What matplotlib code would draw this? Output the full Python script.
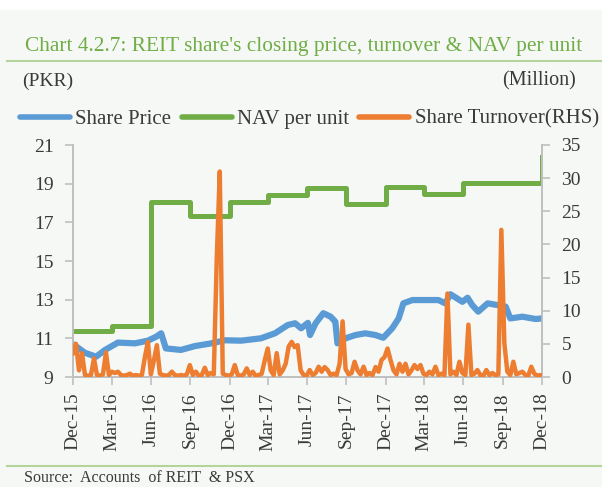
import matplotlib
matplotlib.use("Agg")
import matplotlib.pyplot as plt
from matplotlib.lines import Line2D
import pandas as pd

# ---------------- data ----------------
price_dates = ['2015-12-31', '2016-01-28', '2016-02-23', '2016-03-15', '2016-04-14',
               '2016-05-24', '2016-06-23', '2016-07-12', '2016-07-24', '2016-08-04',
               '2016-09-08', '2016-10-11', '2016-11-18', '2016-12-20', '2017-01-27',
               '2017-03-14', '2017-04-16', '2017-05-16', '2017-06-02', '2017-06-16',
               '2017-07-02', '2017-07-07', '2017-07-20', '2017-08-07', '2017-08-24',
               '2017-09-04', '2017-09-09', '2017-09-28', '2017-10-21', '2017-11-13',
               '2017-12-07', '2017-12-25', '2018-01-15', '2018-01-30', '2018-02-10',
               '2018-03-03', '2018-05-03', '2018-05-19', '2018-05-31', '2018-06-28',
               '2018-07-10', '2018-07-21', '2018-08-04', '2018-08-26', '2018-09-18',
               '2018-10-07', '2018-10-18', '2018-11-15', '2018-12-16', '2018-12-31']
share_price = [10.7, 10.25, 10.05, 10.4, 10.78,
               10.74, 10.88, 11.08, 11.26, 10.48,
               10.4, 10.6, 10.74, 10.9, 10.88,
               11.0, 11.26, 11.69, 11.78, 11.52,
               11.8, 11.17, 11.78, 12.3, 12.12,
               11.86, 10.74, 11.0, 11.17, 11.26,
               11.17, 11.03, 11.52, 12.03, 12.81,
               12.98, 12.98, 12.81, 13.28, 12.89,
               13.1, 12.72, 12.38, 12.81, 12.72,
               12.64, 12.03, 12.12, 12.0, 12.03]

nav_dates = ['2015-12-31', '2016-03-31', '2016-06-30', '2016-09-30', '2016-12-31',
             '2017-03-31', '2017-06-30', '2017-09-30', '2017-12-31', '2018-03-31',
             '2018-06-30', '2018-12-27', '2018-12-31']
nav_per_unit = [11.38, 11.64, 18.07, 17.33, 18.07,
                18.41, 18.76, 17.93, 18.85, 18.46,
                19.05, 19.05, 20.4]

turnover_start = '2015-12-31'   # weekly observations
share_turnover = [
    3.5, 5.0, 1.0, 3.6, 0.3, 0.2, 0.3, 2.8, 0.3, 0.2,
    0.4, 3.7, 0.3, 0.8, 0.6, 0.8, 0.3, 0.2, 0.3, 0.5,
    0.2, 0.3, 0.2, 0.3, 3.0, 5.3, 0.4, 2.5, 4.8, 0.5,
    0.3, 0.2, 0.3, 0.8, 0.3, 0.2, 0.3, 0.2, 0.4, 1.8,
    0.3, 0.8, 0.2, 0.3, 1.4, 0.3, 0.6, 0.4, 18.0, 31.0,
    0.5, 0.3, 0.2, 0.4, 1.8, 0.3, 0.2, 0.4, 1.3, 0.3,
    0.8, 0.2, 0.3, 0.5, 2.5, 4.3, 1.0, 0.3, 3.6, 0.4,
    1.0, 2.0, 4.6, 5.3, 4.5, 4.8, 1.0, 0.3, 0.2, 1.05,
    0.3, 0.6, 1.55, 0.8, 1.5, 1.05, 0.3, 0.5, 0.3, 2.0,
    8.4, 1.2, 0.4, 0.6, 2.3, 1.0, 0.4, 1.55, 0.3, 0.6,
    0.3, 1.5, 0.8, 2.56, 3.0, 4.3, 2.56, 1.0, 0.4, 2.0,
    0.8, 2.0, 0.4, 1.0, 1.8, 1.2, 1.8, 0.5, 0.3, 0.8,
    0.4, 1.55, 0.3, 0.5, 0.3, 12.6, 0.4, 0.8, 0.3, 2.3,
    0.6, 0.3, 7.9, 0.3, 0.5, 1.05, 0.3, 0.2, 1.05, 0.3,
    0.6, 0.3, 0.4, 22.2, 5.1, 0.8, 0.3, 2.3, 0.4, 0.6,
    0.8, 0.3, 0.2, 1.55, 0.5, 0.2, 0.3]

tick_dates = ['2015-12-31', '2016-03-31', '2016-06-30', '2016-09-30', '2016-12-31',
              '2017-03-31', '2017-06-30', '2017-09-30', '2017-12-31', '2018-03-31',
              '2018-06-30', '2018-09-30', '2018-12-31']
tick_labels = ['Dec-15', 'Mar-16', 'Jun-16', 'Sep-16', 'Dec-16', 'Mar-17', 'Jun-17',
               'Sep-17', 'Dec-17', 'Mar-18', 'Jun-18', 'Sep-18', 'Dec-18']
left_ticks = [9, 11, 13, 15, 17, 19, 21]
right_ticks = [0, 5, 10, 15, 20, 25, 30, 35]

title = "Chart 4.2.7: REIT share's closing price, turnover & NAV per unit"
source = "Source:  Accounts  of REIT  & PSX"

# ---------------- style ----------------
BG = '#f6f8f5'
BLUE = '#5b9bd5'
GREEN = '#70ad47'
ORANGE = '#ed7d31'
GREY = '#bfbfbf'
TXT = '#3a3a3a'
FONT = ['Liberation Serif', 'DejaVu Serif']
plt.rcParams['font.family'] = FONT

W, H = 602, 487
fig = plt.figure(figsize=(W / 100, H / 100), dpi=100, facecolor=BG)

def fx(px):
    return px / W

def fy(py):
    return 1 - py / H

# white top strip
fig.patches.append(plt.Rectangle((0, fy(10)), 1, 10 / H, transform=fig.transFigure,
                                 facecolor='white', edgecolor='none', zorder=-1))

fig.text(fx(25), fy(46), title, color=GREEN, fontsize=15.4, va='center', ha='left')
fig.add_artist(Line2D([fx(7), 1], [fy(61), fy(61)], color='#b4d49c', lw=1.5,
                      transform=fig.transFigure))
fig.text(fx(22), fy(81), '(PKR)', color=TXT, fontsize=14, va='center', ha='left')
fig.text(fx(576), fy(81), '(Million)', color=TXT, fontsize=14.5, va='center', ha='right')

fig.add_artist(Line2D([fx(7), 1], [fy(466), fy(466)], color='#b4d49c', lw=1.5,
                      transform=fig.transFigure))
fig.text(fx(24), fy(478), source, color=TXT, fontsize=11.5, va='center', ha='left')

left, right, top, bottom = 73, 542, 145, 377
ax = fig.add_axes([fx(left), fy(bottom), fx(right - left), (bottom - top) / H])
ax.set_facecolor(BG)
ax2 = ax.twinx()

pd_price = pd.to_datetime(price_dates)
pd_nav = pd.to_datetime(nav_dates)
pd_turn = pd.date_range(turnover_start, periods=len(share_turnover), freq='7D')

l1, = ax.plot(pd_price, share_price, color=BLUE, lw=4.5, solid_capstyle='round',
              solid_joinstyle='round', zorder=3)
l2, = ax.plot(pd_nav, nav_per_unit, color=GREEN, lw=3.6, drawstyle='steps-post',
              solid_joinstyle='round', zorder=2)
l3, = ax2.plot(pd_turn, share_turnover, color=ORANGE, lw=3.2, solid_joinstyle='round',
               solid_capstyle='round', zorder=3)

ax.set_ylim(9, 21)
ax.set_yticks(left_ticks)
ax2.set_ylim(0, 35)
ax2.set_yticks(right_ticks)
ax.set_xlim(pd.Timestamp(tick_dates[0]), pd.Timestamp(tick_dates[-1]))
ax.set_xticks(pd.to_datetime(tick_dates))
ax.set_xticklabels(tick_labels, rotation=90)

for a in (ax, ax2):
    for s in a.spines.values():
        s.set_color(GREY)
        s.set_linewidth(1.2)
    a.spines['top'].set_visible(False)
    a.tick_params(colors=GREY, labelcolor=TXT, labelsize=14, length=6, width=1.2)
ax.tick_params(axis='y', pad=8)
ax2.tick_params(axis='y', pad=8)
ax.tick_params(axis='x', pad=5)

leg = fig.legend([l1, l2, l3], ['Share Price', 'NAV per unit', 'Share Turnover(RHS)'],
                 loc='center left', bbox_to_anchor=(fx(20), fy(119)), ncol=3,
                 frameon=False, fontsize=15, handlelength=2.4, handletextpad=0.25,
                 columnspacing=0.5, borderaxespad=0, borderpad=0)
for t in leg.get_texts():
    t.set_color(TXT)
for h in leg.legend_handles:
    h.set_linewidth(4)
    h.set_solid_capstyle('round')

fig.savefig('out.png', dpi=100, facecolor=BG)
